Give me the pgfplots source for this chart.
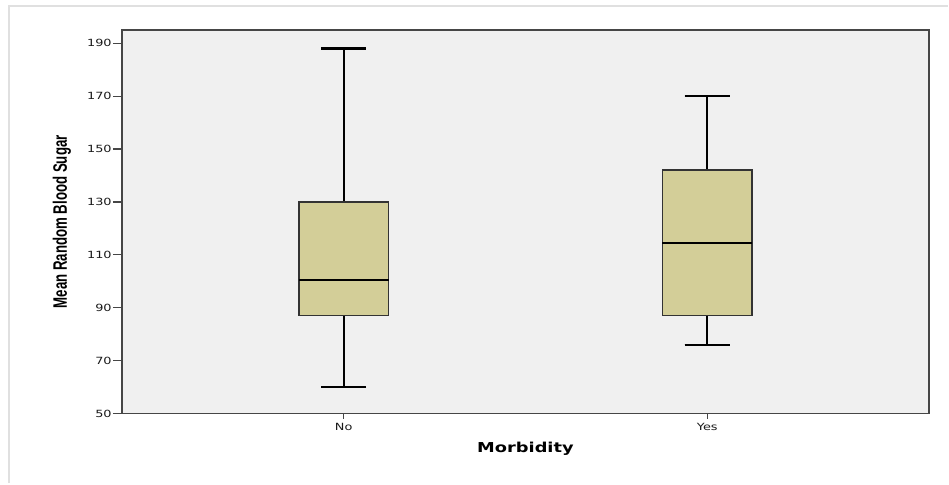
\documentclass[border=0pt]{standalone}
\usepackage{fontspec}
\usepackage{pgfplots}
\pgfplotsset{compat=1.18}
\usepgfplotslibrary{statistics}

\newfontfamily\tickfont[FakeStretch=1.3]{DejaVu Sans}
\newfontfamily\labfont[FakeStretch=1.3]{DejaVu Sans}
\newfontfamily\ylabfont[FakeStretch=0.68]{Liberation Sans}

\definecolor{panel}{RGB}{240,240,240}
\definecolor{boxfill}{RGB}{211,206,152}
\definecolor{frame}{RGB}{70,70,70}

\begin{document}
\begin{tikzpicture}
\begin{axis}[
  scale only axis,
  width=808pt, height=384pt,
  xmin=0.39, xmax=2.61,
  ymin=50, ymax=195,
  xtick={1,2}, xticklabels={No,Yes},
  ytick={50,70,90,110,130,150,170,190},
  axis background/.style={fill=panel},
  axis line style={frame, line width=1.3pt},
  tick align=outside,
  xtick pos=left, ytick pos=left,
  major tick length=9pt,
  x tick style={/pgfplots/major tick length=5pt},
  tick style={frame, line width=1.2pt},
  /pgf/number format/assume math mode=true,
  ticklabel style={font=\tickfont\fontsize{9.9}{11}\selectfont, text=black!90},
  yticklabel style={inner sep=1pt},
  xticklabel style={inner sep=1pt},
  xlabel={Morbidity},
  ylabel={Mean Random Blood Sugar},
  xlabel style={font=\labfont\bfseries\fontsize{13.7}{15}\selectfont,
    at={(axis description cs:0.5,-0.1016)}, anchor=base},
  ylabel style={font=\ylabfont\bfseries\fontsize{19.5}{21}\selectfont,
    at={(axis description cs:-0.0681,0.5)}, anchor=base},
  boxplot/draw direction=y,
]
  % No
  \addplot+[mark=none, solid, fill=boxfill, draw=black!80, line width=1.5pt,
    boxplot prepared={draw position=1,
      lower whisker=60, lower quartile=87, median=100.5,
      upper quartile=130, upper whisker=188,
      box extend=0.247, whisker extend=0.124,
      every whisker/.style={black, line width=2.2pt},
      every median/.style={black, line width=2.4pt}}]
    coordinates {};
  % Yes
  \addplot+[mark=none, solid, fill=boxfill, draw=black!80, line width=1.5pt,
    boxplot prepared={draw position=2,
      lower whisker=76, lower quartile=87, median=114.5,
      upper quartile=142, upper whisker=170,
      box extend=0.247, whisker extend=0.124,
      every whisker/.style={black, line width=2.2pt},
      every median/.style={black, line width=2.4pt}}]
    coordinates {};
\end{axis}
% faint outer frame and the extent of the figure
\draw[black!12, line width=2pt] (-113pt,-70pt) -- (-113pt,408pt) -- (827pt,408pt);
\path[use as bounding box] (-122pt,-70pt) rectangle (827pt,414pt);
\end{tikzpicture}
\end{document}
